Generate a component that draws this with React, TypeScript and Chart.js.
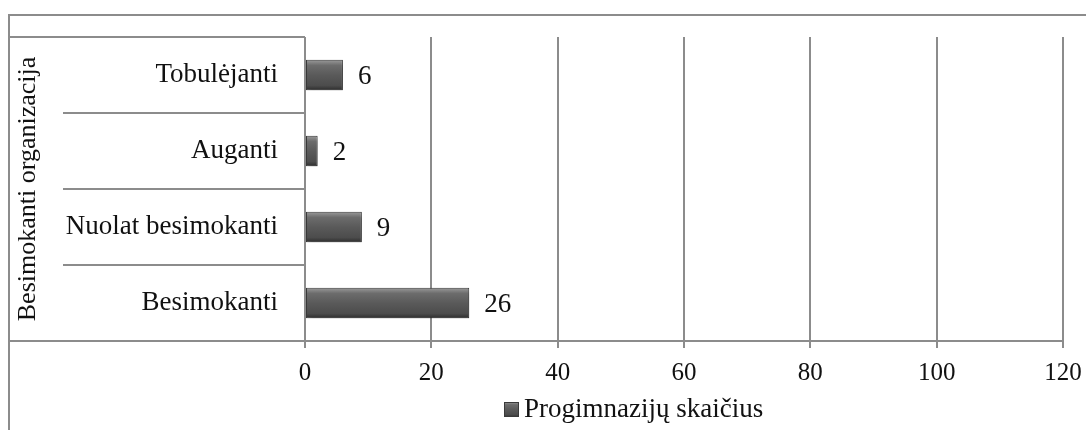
import React, { useEffect, useRef } from "react";
import { Chart, registerables } from "chart.js";

Chart.register(...registerables);

const categories = ["Tobulėjanti", "Auganti", "Nuolat besimokanti", "Besimokanti"];
const values = [6, 2, 9, 26];
const seriesLabel = "Progimnazijų skaičius";
const groupLabel = "Besimokanti organizacija";
const xTickValues = [0, 20, 40, 60, 80, 100, 120];

const FONT = '"Liberation Serif", "Times New Roman", serif';
const GRID = "#8c8c8c";
const TEXT = "#111111";

function barGradient(ctx: CanvasRenderingContext2D, top: number, bottom: number) {
  const g = ctx.createLinearGradient(0, top, 0, bottom);
  g.addColorStop(0, "#9a9a9a");
  g.addColorStop(0.18, "#6c6c6c");
  g.addColorStop(0.5, "#5a5a5a");
  g.addColorStop(0.85, "#4c4c4c");
  g.addColorStop(1, "#2e2e2e");
  return g;
}

const framePlugin = {
  id: "frame",
  beforeDraw(chart: any) {
    const { ctx, chartArea } = chart;
    const yScale = chart.scales.y;
    ctx.save();
    ctx.strokeStyle = GRID;
    ctx.lineWidth = 2;
    ctx.beginPath();
    ctx.moveTo(9, 430);
    ctx.lineTo(9, 15);
    ctx.lineTo(chart.width, 15);
    ctx.stroke();
    ctx.beginPath();
    ctx.moveTo(9, chartArea.top);
    ctx.lineTo(chartArea.left, chartArea.top);
    ctx.stroke();
    const n = categories.length;
    for (let i = 1; i < n; i++) {
      const y = Math.round((yScale.getPixelForValue(i - 1) + yScale.getPixelForValue(i)) / 2);
      ctx.beginPath();
      ctx.moveTo(63, y);
      ctx.lineTo(chartArea.left, y);
      ctx.stroke();
    }
    ctx.beginPath();
    ctx.moveTo(9, chartArea.bottom);
    ctx.lineTo(chartArea.left, chartArea.bottom);
    ctx.stroke();
    ctx.restore();
  },
  beforeDatasetDraw(chart: any) {
    const ctx = chart.ctx;
    ctx.shadowColor = "rgba(0,0,0,0.35)";
    ctx.shadowBlur = 5;
    ctx.shadowOffsetX = 2;
    ctx.shadowOffsetY = 3;
  },
  afterDatasetDraw(chart: any) {
    const ctx = chart.ctx;
    ctx.shadowColor = "rgba(0,0,0,0)";
    ctx.shadowBlur = 0;
    ctx.shadowOffsetX = 0;
    ctx.shadowOffsetY = 0;
  },
  afterDatasetsDraw(chart: any) {
    const { ctx } = chart;
    const meta = chart.getDatasetMeta(0);
    ctx.save();
    ctx.fillStyle = TEXT;
    ctx.font = `27px ${FONT}`;
    ctx.textAlign = "left";
    ctx.textBaseline = "alphabetic";
    meta.data.forEach((bar: any, i: number) => {
      ctx.fillText(String(values[i]), bar.x + 15, bar.y + 9);
    });
    ctx.restore();
  },
  afterDraw(chart: any) {
    const { ctx } = chart;
    ctx.save();
    const bx = 504;
    const by = 402;
    ctx.fillStyle = barGradient(ctx, by, by + 15);
    ctx.fillRect(bx, by, 15, 15);
    ctx.strokeStyle = "#3a3a3a";
    ctx.lineWidth = 1;
    ctx.strokeRect(bx + 0.5, by + 0.5, 14, 14);
    ctx.fillStyle = TEXT;
    ctx.font = `27px ${FONT}`;
    ctx.textAlign = "left";
    ctx.textBaseline = "alphabetic";
    ctx.fillText(chart.data.datasets[0].label, bx + 20, 417);
    ctx.restore();
  },
};

export default function App() {
  const ref = useRef<HTMLCanvasElement | null>(null);

  useEffect(() => {
    if (!ref.current) return;
    const chart = new Chart(ref.current, {
      type: "bar",
      data: {
        labels: categories,
        datasets: [
          {
            label: seriesLabel,
            data: values,
            backgroundColor: (c: any) => {
              const ys = c.chart.scales?.y;
              if (!ys || c.dataIndex === undefined) return "#5a5a5a";
              const center = ys.getPixelForValue(c.dataIndex);
              if (!isFinite(center)) return "#5a5a5a";
              return barGradient(c.chart.ctx, center - 15, center + 15);
            },
            borderColor: "#3a3a3a",
            borderWidth: 1,
            borderSkipped: false,
            categoryPercentage: 1,
            barPercentage: 0.4,
          },
        ],
      },
      options: {
        indexAxis: "y",
        responsive: false,
        animation: false,
        layout: { padding: { left: 9, top: 37, right: 23, bottom: 49 } },
        plugins: {
          legend: { display: false },
          tooltip: { enabled: false },
        },
        scales: {
          x: {
            min: 0,
            max: 120,
            afterBuildTicks: (s: any) => {
              s.ticks = xTickValues.map((v) => ({ value: v }));
            },
            grid: { color: GRID, lineWidth: 2, tickLength: 7 },
            border: { color: GRID, width: 2 },
            ticks: {
              font: { family: FONT, size: 25 },
              color: TEXT,
              padding: 10,
              maxRotation: 0,
            },
            afterFit: (s: any) => {
              s.height = 40;
              s.paddingLeft = 0;
              s.paddingRight = 0;
            },
          },
          y: {
            grid: { display: false, drawTicks: false },
            border: { display: false },
            ticks: {
              font: { family: FONT, size: 27 },
              color: TEXT,
              padding: 27,
            },
            title: {
              display: true,
              text: groupLabel,
              font: { family: FONT, size: 26 },
              color: TEXT,
              padding: { top: 4, bottom: 4 },
            },
            afterFit: (s: any) => {
              s.width = 296;
              s.paddingTop = 0;
              s.paddingBottom = 0;
            },
          },
        },
      },
      plugins: [framePlugin],
    } as any);
    return () => chart.destroy();
  }, []);

  return (
    <div style={{ position: "fixed", left: 0, top: 0, width: 1086, height: 430, background: "#fff" }}>
      <canvas ref={ref} width={1086} height={430} style={{ display: "block", width: 1086, height: 430 }} />
    </div>
  );
}
